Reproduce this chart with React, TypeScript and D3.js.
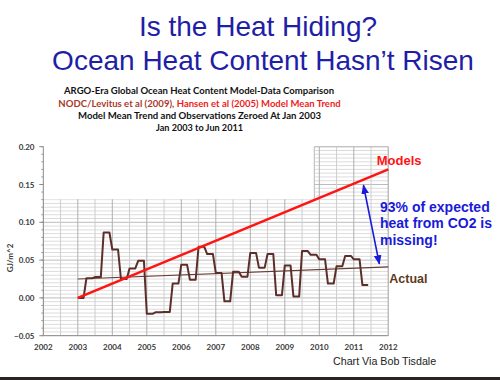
import React from "react";
import * as d3 from "d3";

// ---- Data ----
const titleLines = ["Is the Heat Hiding?", "Ocean Heat Content Hasn\u2019t Risen"];
const subtitle1 = "ARGO-Era Global Ocean Heat Content Model-Data Comparison";
const subtitle2a = "NODC/Levitus et al (2009), ";
const subtitle2b = "Hansen et al (2005) Model Mean Trend";
const subtitle3 = "Model Mean Trend and Observations Zeroed At Jan 2003";
const subtitle4 = "Jan 2003 to Jun 2011";
const yearTicks = [2002, 2003, 2004, 2005, 2006, 2007, 2008, 2009, 2010, 2011, 2012];
const valueTicks = [-0.05, 0.0, 0.05, 0.1, 0.15, 0.2];
// Observed OHC, quarterly values (Q1 2003 .. Q2 2011), GJ/m^2, plotted monthly
const quarterStart = 2003;
const actualQuarterly = [
  0.0, 0.026, 0.0275, 0.0865,
  0.064, 0.025, 0.039, 0.049,
  -0.021, -0.019, -0.0185, 0.019,
  0.044, 0.024, 0.0675, 0.058,
  0.033, -0.0045, 0.0345, 0.028,
  0.0595, 0.04, 0.058, 0.0035,
  0.043, 0.002, 0.062, 0.057,
  0.051, 0.019, 0.042, 0.0555,
  0.051, 0.017,
];
const modelTrend = [
  { t: 2003, v: 0.0 },
  { t: 2012, v: 0.17 },
];
const actualTrend = [
  { t: 2003, v: 0.025 },
  { t: 2012, v: 0.041 },
];
const gapArrow = [
  { t: 2011.28, v: 0.149 },
  { t: 2011.74, v: 0.045 },
];
const annotationLines = ["93% of expected", "heat from CO2 is", "missing!"];

export default function App() {
  const W = 500;
  const H = 380;
  const x = d3.scaleLinear().domain([2002, 2012]).range([43.3, 388.3]);
  const y = d3.scaleLinear().domain([-0.05, 0.2]).range([335.7, 146.7]);

  const monthly = actualQuarterly.flatMap((v, q) =>
    [0, 1, 2].map((m) => ({ t: quarterStart + (q * 3 + m) / 12, v }))
  );
  const line = d3
    .line<{ t: number; v: number }>()
    .x((d) => x(d.t))
    .y((d) => y(d.v));

  const x0 = x(2002);
  const x1 = x(2012);
  const yTop = y(0.2);
  const yBot = y(-0.05);
  const yStep = y(0.1305);
  const xStep = 314.3;
  const gridClip = `M${x0},${yStep}L${xStep},${yStep}L${xStep},${yTop}L${x1},${yTop}L${x1},${yBot}L${x0},${yBot}Z`;

  const hLines = d3.range(-0.05, 0.2001, 0.005);
  const vLines = d3.range(2002, 2012.001, 0.5);
  const minorTicks = d3.range(-0.05, 0.2001, 0.01);

  const sub = { fontFamily: "Lato, 'Open Sans', sans-serif", fontWeight: 700, fontSize: 9.5 };
  const axisFont = { fontFamily: "Lato, 'Open Sans', sans-serif", fontWeight: 700, fontSize: 8, fill: "#3a3a3a" };

  return (
    <svg width={W} height={H} style={{ position: "absolute", left: 0, top: 0 }}>
      <rect x={0} y={0} width={W} height={H} fill="#ffffff" />
      {/* Title */}
      <g fontFamily="'Liberation Sans', Arial, sans-serif" fontSize={28} fill="#1e1ea6" textAnchor="middle">
        <text x={258} y={36}>{titleLines[0]}</text>
        <text x={263} y={70}>{titleLines[1]}</text>
      </g>
      {/* Subtitle */}
      <g textAnchor="middle" style={sub as any}>
        <text x={199} y={94} fill="#111" textLength={270} lengthAdjust="spacingAndGlyphs">{subtitle1}</text>
        <text x={58.3} y={106.5} textAnchor="start" fill="#a83a2a" textLength={116} lengthAdjust="spacingAndGlyphs">{subtitle2a}</text>
        <text x={176.7} y={106.5} textAnchor="start" fill="#ee1c1c" textLength={164} lengthAdjust="spacingAndGlyphs">{subtitle2b}</text>
        <text x={199.5} y={119} fill="#111" textLength={243} lengthAdjust="spacingAndGlyphs">{subtitle3}</text>
        <text x={199.5} y={131} fill="#111" textLength={87} lengthAdjust="spacingAndGlyphs">{subtitle4}</text>
      </g>

      {/* Grid */}
      <defs>
        <clipPath id="gridClip">
          <path d={gridClip} />
        </clipPath>
      </defs>
      <g clipPath="url(#gridClip)">
        {hLines.map((v, i) => (
          <line
            key={"h" + i}
            x1={x0}
            x2={x1}
            y1={y(v)}
            y2={y(v)}
            stroke={i % 10 === 0 ? "#bcbcbc" : "#dcdcdc"}
            strokeWidth={1}
          />
        ))}
        {vLines.map((t, i) => (
          <line
            key={"v" + i}
            x1={x(t)}
            x2={x(t)}
            y1={yTop}
            y2={yBot}
            stroke={i % 2 === 0 ? "#b0b0b0" : "#cecece"}
            strokeWidth={1}
          />
        ))}
      </g>
      <line x1={xStep} x2={xStep} y1={yTop} y2={yStep} stroke="#b8b8b8" />
      <line x1={xStep} x2={x1} y1={yTop} y2={yTop} stroke="#b8b8b8" />
      <line x1={x1} x2={x1} y1={yTop} y2={yBot} stroke="#b0b0b0" />

      {/* Axes */}
      <line x1={x0} x2={x0} y1={yTop} y2={yBot} stroke="#8a8a8a" />
      <line x1={x0} x2={x1} y1={yBot} y2={yBot} stroke="#8a8a8a" />
      {minorTicks.map((v, i) => (
        <line key={"mt" + i} x1={x0 - 2} x2={x0} y1={y(v)} y2={y(v)} stroke="#9a9a9a" />
      ))}
      {valueTicks.map((v) => (
        <g key={"yt" + v}>
          <line x1={x0 - 4} x2={x0} y1={y(v)} y2={y(v)} stroke="#8a8a8a" />
          <text x={34.5} y={y(v) + 3} textAnchor="end" style={axisFont as any}>
            {d3.format(".2f")(v)}
          </text>
        </g>
      ))}
      {yearTicks.map((t) => (
        <text key={"xt" + t} x={x(t)} y={349.5} textAnchor="middle" style={axisFont as any}>
          {t}
        </text>
      ))}
      <text
        transform={`translate(12.5,258) rotate(-90)`}
        textAnchor="middle"
        style={axisFont as any}
        fill="#222"
      >
        GJ/m^2
      </text>

      {/* Series */}
      <path d={line(actualTrend) || ""} fill="none" stroke="#6a3b30" strokeWidth={1.1} />
      <path d={line(monthly) || ""} fill="none" stroke="#5c2e2a" strokeWidth={2} strokeLinejoin="round" />
      <path d={line(modelTrend) || ""} fill="none" stroke="#ff1414" strokeWidth={2.6} />

      {/* Arrow */}
      <defs>
        <marker id="ah" viewBox="0 0 10 10" refX={9} refY={5} markerWidth={6} markerHeight={6} orient="auto-start-reverse">
          <path d="M0,1 L10,5 L0,9 Z" fill="#1a1ad8" />
        </marker>
      </defs>
      <line
        x1={x(gapArrow[0].t)}
        y1={y(gapArrow[0].v)}
        x2={x(gapArrow[1].t)}
        y2={y(gapArrow[1].v)}
        stroke="#1a1ad8"
        strokeWidth={1.6}
        markerStart="url(#ah)"
        markerEnd="url(#ah)"
      />

      {/* Labels */}
      <g fontFamily="'Liberation Sans', Arial, sans-serif" fontWeight={700}>
        <text x={376.7} y={165} fontSize={13} fill="#ff1414">Models</text>
        <text x={389.3} y={283} fontSize={12.5} fill="#5c3a1e">Actual</text>
        {annotationLines.map((s, i) => (
          <text key={s} x={380} y={212 + i * 16.3} fontSize={14} fill="#1a1ad8">
            {s}
          </text>
        ))}
      </g>
      <text x={333} y={365} fontFamily="'Liberation Sans', Arial, sans-serif" fontSize={10.7} fill="#222">
        Chart Via Bob Tisdale
      </text>
      <rect x={0} y={377} width={W} height={3} fill="#2b2422" />
    </svg>
  );
}
